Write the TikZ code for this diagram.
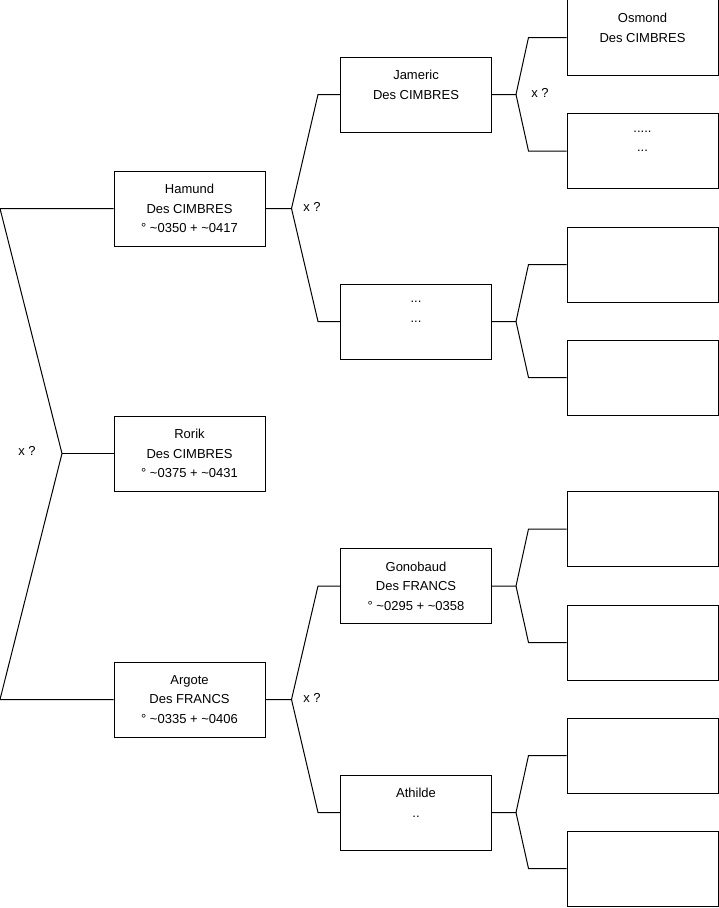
\documentclass[tikz,border=0pt]{standalone}
\usepackage{fontspec}
\setmainfont{Liberation Sans}

\begin{document}
\begin{tikzpicture}[
    person/.style={rectangle, draw=black, line width=1bp, minimum width=151bp, minimum height=75bp,
        inner sep=0pt, align=center, font=\fontsize{13bp}{19.5bp}\selectfont},
    qlabel/.style={font=\fontsize{13bp}{19.5bp}\selectfont, inner sep=0pt},
    link/.style={line width=1bp},
    x=1bp, y=-1bp]

    \useasboundingbox (0,0) rectangle (719,908);

    % ----- first column: the three candidates
    \node[person] (hamund) at (189.5, 208.5) {Hamund\\Des CIMBRES\\° \char`\~0350 + \char`\~0417};
    \node[person] (rorik)  at (189.5, 453.5) {Rorik\\Des CIMBRES\\° \char`\~0375 + \char`\~0431};
    \node[person] (argote) at (189.5, 699.5) {Argote\\Des FRANCS\\° \char`\~0335 + \char`\~0406};

    % ----- second column: parents
    \node[person] (jameric)  at (416, 94.5)  {Jameric\\Des CIMBRES\\\mbox{}};
    \node[person] (unk)      at (416, 321.5) {...\\...\\\mbox{}};
    \node[person] (gonobaud) at (416, 586)   {Gonobaud\\Des FRANCS\\° \char`\~0295 + \char`\~0358};
    \node[person] (athilde)  at (416, 812.5) {Athilde\\..\\\mbox{}};

    % ----- third column: grandparents, mostly empty
    \node[person] (c1) at (642.5, 37.5)  {Osmond\\Des CIMBRES\\\mbox{}};
    \node[person] (c2) at (642.5, 151)   {.....\\...\\\mbox{}};
    \node[person] (c3) at (642.5, 264.5) {};
    \node[person] (c4) at (642.5, 377.5) {};
    \node[person] (c5) at (642.5, 529)   {};
    \node[person] (c6) at (642.5, 642.5) {};
    \node[person] (c7) at (642.5, 755.5) {};
    \node[person] (c8) at (642.5, 868.5) {};

    % ----- root fork on the left edge
    \coordinate (rtop) at (0, 208.5);
    \coordinate (rfork) at (62, 453.5);
    \coordinate (rbot) at (0, 699.5);
    \draw[link] (hamund.west) -- (rtop) -- (rfork) -- (rbot) -- (argote.west);
    \draw[link] (rfork) -- (rorik.west);
    \node[qlabel] (q0) at (27, 451) {x ?};

    % ----- forks from the first to the second column
    \foreach \p/\a/\b in {hamund/jameric/unk, argote/gonobaud/athilde} {
        \coordinate (\p-f) at ([xshift=26bp]\p.east);
        \draw[link] (\p.east) -- (\p-f) -- ([xshift=-22bp]\a.west) -- (\a.west);
        \draw[link] (\p-f) -- ([xshift=-22bp]\b.west) -- (\b.west);
    }
    \node[qlabel] (q1) at (312, 207) {x ?};
    \node[qlabel] (q2) at (312, 698) {x ?};

    % ----- forks from the second to the third column
    \foreach \p/\a/\b in {jameric/c1/c2, unk/c3/c4, gonobaud/c5/c6, athilde/c7/c8} {
        \coordinate (\p-f) at ([xshift=24bp]\p.east);
        \draw[link] (\p.east) -- (\p-f) -- ([xshift=-38bp]\a.west) -- (\a.west);
        \draw[link] (\p-f) -- ([xshift=-38bp]\b.west) -- (\b.west);
    }
    \node[qlabel] (q3) at (540, 93) {x ?};
\end{tikzpicture}
\end{document}
